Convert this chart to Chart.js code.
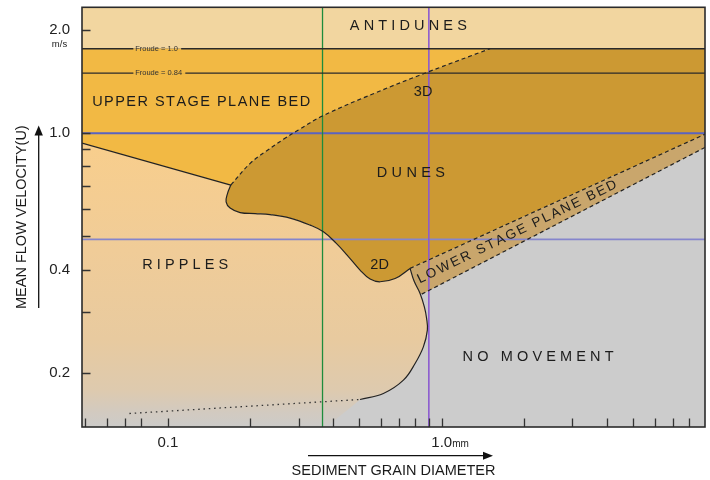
<!DOCTYPE html>
<html><head><meta charset="utf-8">
<script src="https://cdn.jsdelivr.net/npm/chart.js@4.4.0/dist/chart.umd.min.js"></script>
<style>html,body{margin:0;padding:0;background:#fff}#wrap{width:710px;height:480px}</style>
</head><body><div id="wrap"><canvas id="c" width="710" height="480"></canvas></div>
<script>
// ---- axis ranges and ticks (grain diameter in mm, mean flow velocity in m/s) ----
const grainRange = [0.0486, 9.14];
const velocityRange = [0.139, 2.33];
const grainTicks = [0.05, 0.06, 0.07, 0.08, 0.1, 0.2, 0.3, 0.4, 0.5, 0.6, 0.7, 0.8, 0.9, 1, 2, 3, 4, 5, 6, 7, 8];
const grainTickLabels = {0.1: '0.1', 1: '1.0'};
const velocityTicks = [0.2, 0.3, 0.4, 0.5, 0.6, 0.7, 0.8, 0.9, 1, 2];
const velocityTickLabels = {0.2: '0.2', 0.4: '0.4', 1: '1.0', 2: '2.0'};

// ---- reference lines ----
const froudeLines = [{label: 'Froude = 1.0', u: 1.764}, {label: 'Froude = 0.84', u: 1.498}];
const velocityRefLines = [1.0, 0.49];
const grainRefLines = [0.367, 0.897];

// ---- phase boundaries [grain mm, velocity m/s] ----
const rippleUpper = [[0.0486, 0.936], [0.1698, 0.7059]];
const duneUpper = [[0.1698, 0.7059], [0.1998, 0.8167], [0.2297, 0.889], [0.2642, 0.9598], [0.2996, 1.0217],
  [0.3666, 1.1225], [0.5709, 1.3102], [0.8967, 1.5118], [1.50, 1.764]];
const duneLower = [[0.1698, 0.7059], [0.1653, 0.6691], [0.1632, 0.631], [0.1688, 0.6049], [0.1836, 0.5868],
  [0.2083, 0.5829], [0.2362, 0.579], [0.2795, 0.5656], [0.3307, 0.5395], [0.3698, 0.5159], [0.4113, 0.4781],
  [0.4512, 0.4411], [0.5031, 0.3988], [0.5475, 0.3754], [0.5953, 0.3687], [0.6755, 0.3767], [0.766, 0.4034]];
const rippleRight = [[0.766, 0.4034], [0.7923, 0.3704], [0.8333, 0.3409], [0.8639, 0.3115], [0.88, 0.2888],
  [0.8859, 0.2665], [0.8567, 0.2381], [0.7991, 0.213], [0.7244, 0.1904], [0.6121, 0.1741], [0.5031, 0.1672]];
const noMovementEdge = [[0.5031, 0.1672], [0.3804, 0.139]];
const rippleDotted = [[0.0724, 0.1522], [0.5031, 0.1672]];
const lspbUpper = [[0.766, 0.4034], [9.14, 0.9933]];
const lspbLower = [[0.8452, 0.3393], [9.14, 0.9091]];

// ---- region labels ----
const regionLabels = [
  {text: 'ANTIDUNES', x: 0.755, y: 2.055, size: 14.5, width: 117},
  {text: 'UPPER STAGE PLANE BED', x: 0.1323, y: 1.236, size: 14.5, width: 218},
  {text: 'DUNES', x: 0.771, y: 0.764, size: 14.5, width: 68},
  {text: '3D', x: 0.855, y: 1.319, size: 14.5, width: 0},
  {text: '2D', x: 0.593, y: 0.4124, size: 14.5, width: 0},
  {text: 'RIPPLES', x: 0.1157, y: 0.4124, size: 14.5, width: 86},
  {text: 'NO MOVEMENT', x: 2.247, y: 0.2227, size: 14.5, width: 151},
  {text: 'LOWER STAGE PLANE BED', x: 1.883, y: 0.5148, size: 13.5, width: 220, alongBand: true}
];

const colors = {antidunes: '#F2D6A0', uspb: '#F2B944', dunes: '#CC9933', lspb: '#C9A66C', noMove: '#CCCCCC'};
const FONT = '"Liberation Sans", Arial, Helvetica, sans-serif';

// ---- build region outlines from the boundaries ----
const [X0, X1] = grainRange, [Y0, Y1] = velocityRange;
const F1 = froudeLines[0].u;
const pt = a => ({x: a[0], y: a[1]});
const C = a => [pt(a), pt(a)];            // sharp corner
const rev = a => a.slice().reverse();
const last = a => a[a.length - 1];

const noMovementRegion = [[X0, Y0], [X1, Y0], [X1, Y1], [X0, Y1]].map(pt);
const antidunesRegion = [[X0, F1], [X1, F1], [X1, Y1], [X0, Y1]].map(pt);
const uspbRegion = [...C([X0, F1]), ...C(last(duneUpper)), ...rev(duneUpper).slice(1, -1).map(pt),
  ...C(duneUpper[0]), ...C(rippleUpper[0])];
const dunesRegion = [...C(duneUpper[0]), ...duneUpper.slice(1, -1).map(pt), ...C(last(duneUpper)),
  ...C([X1, F1]), ...C(lspbUpper[1]), ...C(lspbUpper[0]), ...rev(duneLower).slice(1).map(pt)];
const lspbRegion = [lspbUpper[0], lspbUpper[1], lspbLower[1], lspbLower[0], rippleRight[2], rippleRight[1]].map(pt);
const ripplesRegion = [...C(rippleUpper[0]), ...C(duneLower[0]), ...duneLower.slice(1, -1).map(pt),
  ...C(rippleRight[0]), ...rippleRight.slice(1, -1).map(pt), ...C(last(rippleRight)),
  ...C(noMovementEdge[1]), ...C([X0, Y0])];

function region(data, color, order, tension) {
  return {data, showLine: true, fill: 'shape', backgroundColor: color, borderColor: 'rgba(0,0,0,0)',
    borderWidth: 0, pointRadius: 0, tension: tension, order};
}
function line(data, color, width, dash, order, tension) {
  return {data: data.map(pt), showLine: true, fill: false, borderColor: color, borderWidth: width,
    borderDash: dash || [], pointRadius: 0, tension: tension || 0, order};
}
function rippleGradient(c) {
  const chart = c.chart, a = chart.chartArea;
  if (!a) return '#F0CC98';
  const g = chart.ctx.createLinearGradient(0, a.top, 0, a.bottom);
  g.addColorStop(0, '#F9CE88');
  g.addColorStop(0.32, '#F8CE8C');
  g.addColorStop(0.58, '#F0CC98');
  g.addColorStop(0.79, '#E8CA9F');
  g.addColorStop(0.91, '#DECAAE');
  g.addColorStop(0.965, '#D2CAC0');
  g.addColorStop(1, '#CCCBC9');
  return g;
}

const datasets = [
  region(noMovementRegion, colors.noMove, 100, 0),
  region(uspbRegion, colors.uspb, 90, 0.4),
  region(dunesRegion, colors.dunes, 80, 0.4),
  region(lspbRegion, colors.lspb, 70, 0),
  region(ripplesRegion, rippleGradient, 60, 0.4),
  region(antidunesRegion, colors.antidunes, 50, 0),
  ...velocityRefLines.map((v, i) => line([[X0, v], [X1, v]], i === 0 ? '#5A63C0' : '#8585CC', 1.8, null, 30)),
  line([[grainRefLines[0], Y0], [grainRefLines[0], Y1]], '#1E8C3C', 1.3, null, 29),
  line([[grainRefLines[1], Y0], [grainRefLines[1], Y1]], '#8C5CD0', 1.6, null, 29),
  ...froudeLines.map(f => line([[X0, f.u], [X1, f.u]], '#2a2a2a', 1.3, null, 20)),
  line(rippleUpper, '#222', 1.2, null, 10),
  line(duneUpper, '#222', 1.2, [4, 3], 10, 0.4),
  line(duneLower, '#222', 1.2, null, 10, 0.4),
  line(rippleRight, '#222', 1.2, null, 10, 0.4),
  line(lspbUpper, '#222', 1.2, [4, 3], 10),
  line(lspbLower, '#222', 1.2, [4, 3], 10),
  line(rippleDotted, '#333', 1.3, [1.5, 3.8], 10)
];

function spacedText(ctx, text, cx, cy, width) {
  const chars = [...text];
  const natural = chars.reduce((s, ch) => s + ctx.measureText(ch).width, 0);
  const sp = width > 0 && chars.length > 1 ? (width - natural) / (chars.length - 1) : 0;
  const total = width > 0 ? width : natural;
  let x = cx - total / 2;
  chars.forEach(ch => { ctx.fillText(ch, x, cy); x += ctx.measureText(ch).width + sp; });
}

const deco = {
  id: 'deco',
  afterDatasetsDraw(chart) {
    const {ctx, chartArea: a, scales: {x, y}} = chart;
    ctx.save();
    // Froude labels interrupting the lines
    ctx.font = '7.5px ' + FONT;
    ctx.textBaseline = 'middle'; ctx.textAlign = 'left';
    froudeLines.forEach((f, i) => {
      const py = y.getPixelForValue(f.u), px = x.getPixelForValue(0.076);
      const w = ctx.measureText(f.label).width;
      ctx.fillStyle = i === 0 ? colors.antidunes : colors.uspb;
      ctx.fillRect(px - 1.8, py - 1.6, w + 5, 1.6);
      ctx.fillStyle = colors.uspb;
      ctx.fillRect(px - 1.8, py, w + 5, 1.6);
      ctx.fillStyle = '#333';
      ctx.fillText(f.label, px, py + 0.3);
    });
    // region labels
    ctx.fillStyle = '#1c1c1c';
    ctx.textAlign = 'left'; ctx.textBaseline = 'middle';
    regionLabels.forEach(l => {
      ctx.font = l.size + 'px ' + FONT;
      const px = x.getPixelForValue(l.x), py = y.getPixelForValue(l.y);
      if (l.alongBand) {
        const ang = (b) => Math.atan2(y.getPixelForValue(b[1][1]) - y.getPixelForValue(b[0][1]),
                                      x.getPixelForValue(b[1][0]) - x.getPixelForValue(b[0][0]));
        const angle = (ang(lspbUpper) + ang(lspbLower)) / 2;
        ctx.save(); ctx.translate(px, py); ctx.rotate(angle);
        spacedText(ctx, l.text, 0, 0, l.width);
        ctx.restore();
      } else {
        spacedText(ctx, l.text, px, py, l.width);
      }
    });
    // inward tick marks
    ctx.strokeStyle = '#333'; ctx.lineWidth = 1.3;
    ctx.beginPath();
    x.ticks.forEach(t => { const p = Math.round(x.getPixelForValue(t.value)) + 0.5; ctx.moveTo(p, a.bottom); ctx.lineTo(p, a.bottom - 8.5); });
    y.ticks.forEach(t => { const p = Math.round(y.getPixelForValue(t.value)) + 0.5; ctx.moveTo(a.left, p); ctx.lineTo(a.left + 8.5, p); });
    ctx.stroke();
    // frame
    ctx.strokeStyle = '#2b2b2b'; ctx.lineWidth = 1.6;
    ctx.strokeRect(a.left, a.top, a.right - a.left, a.bottom - a.top);
    ctx.restore();
  },
  afterDraw(chart) {
    const {ctx, scales: {x, y}} = chart;
    ctx.save();
    ctx.fillStyle = '#222';
    ctx.font = '9.5px ' + FONT; ctx.textAlign = 'center'; ctx.textBaseline = 'middle';
    ctx.fillText('m/s', 59.5, y.getPixelForValue(2) + 14);
    ctx.font = '10px ' + FONT; ctx.textAlign = 'left'; ctx.textBaseline = 'alphabetic';
    ctx.fillText('mm', x.getPixelForValue(1) + 10.5, 446.7);
    // axis arrows
    ctx.strokeStyle = '#111'; ctx.fillStyle = '#111'; ctx.lineWidth = 1.3;
    ctx.beginPath(); ctx.moveTo(38.7, 308); ctx.lineTo(38.7, 133); ctx.stroke();
    ctx.beginPath(); ctx.moveTo(38.7, 125.5); ctx.lineTo(34.5, 135.5); ctx.lineTo(42.9, 135.5); ctx.closePath(); ctx.fill();
    ctx.beginPath(); ctx.moveTo(308, 455.7); ctx.lineTo(485, 455.7); ctx.stroke();
    ctx.beginPath(); ctx.moveTo(493, 455.7); ctx.lineTo(483, 451.7); ctx.lineTo(483, 459.7); ctx.closePath(); ctx.fill();
    ctx.restore();
  }
};

Chart.defaults.font.family = FONT;
new Chart(document.getElementById('c'), {
  type: 'scatter',
  data: {datasets},
  options: {
    responsive: false, animation: false, devicePixelRatio: 1,
    layout: {padding: {left: 0, top: 7.3, right: 5, bottom: 0}},
    elements: {line: {capBezierPoints: false}, point: {radius: 0}},
    plugins: {legend: {display: false}, tooltip: {enabled: false}},
    scales: {
      x: {
        type: 'logarithmic', min: X0, max: X1, bounds: 'data',
        grid: {display: false}, border: {display: false},
        afterBuildTicks: s => { s.ticks = grainTicks.map(v => ({value: v})); },
        afterFit: s => { s.height = 53; s.paddingLeft = 0; s.paddingRight = 0; },
        ticks: {autoSkip: false, maxRotation: 0, padding: -1, color: '#222', font: {size: 15},
          callback: v => grainTickLabels[v] || ''},
        title: {display: true, text: 'SEDIMENT GRAIN DIAMETER', color: '#1a1a1a', font: {size: 14.5},
          padding: {top: 0, bottom: 0}}
      },
      y: {
        type: 'logarithmic', min: Y0, max: Y1, bounds: 'data',
        grid: {display: false}, border: {display: false},
        afterBuildTicks: s => { s.ticks = velocityTicks.map(v => ({value: v})); },
        afterFit: s => { s.width = 82; s.paddingTop = 0; s.paddingBottom = 0; },
        ticks: {autoSkip: false, padding: 4, color: '#222', font: {size: 15},
          callback: v => velocityTickLabels[v] || ''},
        title: {display: true, text: 'MEAN FLOW VELOCITY(U)', color: '#1a1a1a', font: {size: 14.5},
          padding: {top: 13.3, bottom: 0}}
      }
    }
  },
  plugins: [deco]
});
</script></body></html>
